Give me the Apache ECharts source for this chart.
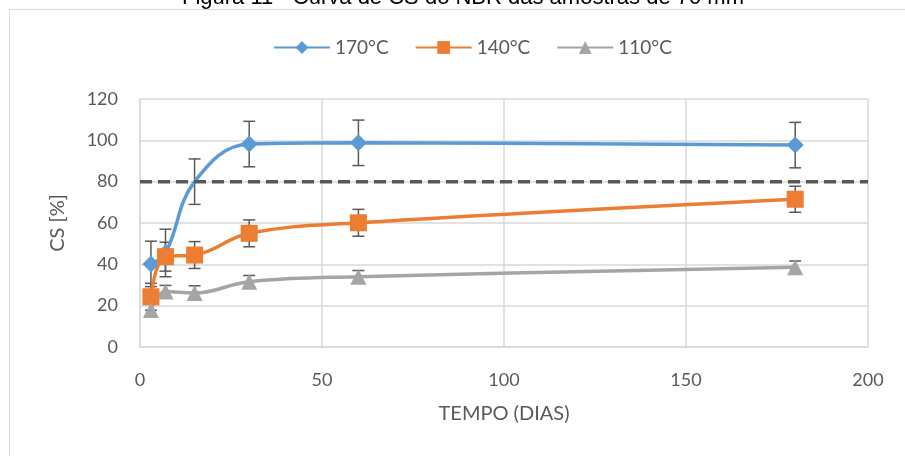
<!DOCTYPE html>
<html lang="pt">
	<head>
		<meta charset="UTF-8" />
		<title>Curva de CS</title>
		<style>
			body {
				margin: 0;
				padding: 0;
				background: #fff;
			}
			.chart {
				width: 905px;
				height: 456px;
			}
		</style>
	</head>
	<body>
		<div class="chart"></div>
		<script src="https://cdn.jsdelivr.net/npm/echarts@6/dist/echarts.min.js"></script>
		<script>
			// dados
			const dias = [3, 7, 15, 30, 60, 180];
			const cs170 = [40.2, 45.5, 80, 98.2, 98.8, 97.7];
			const cs140 = [24.3, 43.7, 44.5, 55, 60.1, 71.5];
			const cs110 = [17.9, 26.8, 26.1, 31.6, 34, 38.6];
			const erro170 = [11, 11.5, 11, 11, 11, 11];
			const erro140 = [6.5, 7, 6.5, 6.5, 6.5, 6.3];
			const erro110 = [3, 3, 3.5, 3, 3, 3];
			const limite = 80;

			const fonte = 'Lato';
			const cinza = '#595959';

			const pares = (ys) => dias.map((d, i) => [d, ys[i]]);
			const barras = (ys, es) => dias.map((d, i) => [d, ys[i] - es[i], ys[i] + es[i]]);

			function desenhaErro(params, api) {
				const x = api.value(0);
				const lo = api.coord([x, api.value(1)]);
				const hi = api.coord([x, api.value(2)]);
				const w = 6;
				const st = { stroke: cinza, lineWidth: 1.5 };
				return {
					type: 'group',
					children: [
						{ type: 'line', shape: { x1: lo[0], y1: lo[1], x2: hi[0], y2: hi[1] }, style: st },
						{ type: 'line', shape: { x1: lo[0] - w, y1: lo[1], x2: lo[0] + w, y2: lo[1] }, style: st },
						{ type: 'line', shape: { x1: hi[0] - w, y1: hi[1], x2: hi[0] + w, y2: hi[1] }, style: st }
					]
				};
			}

			const errSerie = (data) => ({
				type: 'custom',
				renderItem: desenhaErro,
				data: data,
				z: 3,
				silent: true,
				encode: { x: 0, y: [1, 2] }
			});

			const container = document.querySelector('.chart');
			const instance = echarts.init(container);
			const option = {
				animation: false,
				graphic: [
					{
						type: 'rect',
						shape: { x: 9.5, y: 9.5, width: 2000, height: 2000 },
						style: { fill: 'none', stroke: '#d9d9d9', lineWidth: 1 }
					},
					{
						type: 'text',
						x: 463,
						y: -2,
						style: {
							text: 'Figura 11 - Curva de CS do NBR das amostras de 70 mm',
							font: '22px "Liberation Sans"',
							fill: '#000',
							textAlign: 'center',
							textVerticalAlign: 'middle'
						}
					}
				],
				legend: {
					top: 33,
					left: 268,
					itemWidth: 56,
					itemHeight: 16,
					itemGap: 26,
					textStyle: { color: cinza, fontSize: 19, fontFamily: fonte },
					data: ['170°C', '140°C', '110°C']
				},
				grid: { left: 140, right: 37, top: 99, bottom: 109 },
				xAxis: {
					type: 'value',
					min: 0,
					max: 200,
					interval: 50,
					name: 'TEMPO (DIAS)',
					nameLocation: 'middle',
					nameGap: 57,
					nameTextStyle: { color: cinza, fontSize: 20, fontFamily: fonte },
					axisLine: { lineStyle: { color: '#d9d9d9', width: 1.5 } },
					axisTick: { show: false },
					axisLabel: { color: cinza, fontSize: 18, fontFamily: fonte, margin: 24 },
					splitLine: { show: true, lineStyle: { color: '#d9d9d9', width: 1.5 } }
				},
				yAxis: {
					type: 'value',
					min: 0,
					max: 120,
					interval: 20,
					name: 'CS [%]',
					nameLocation: 'middle',
					nameGap: 72,
					nameTextStyle: { color: cinza, fontSize: 20, fontFamily: fonte },
					axisLine: { show: true, lineStyle: { color: '#d9d9d9', width: 1.5 } },
					axisTick: { show: false },
					axisLabel: { color: cinza, fontSize: 18, fontFamily: fonte, margin: 22 },
					splitLine: { lineStyle: { color: '#d9d9d9', width: 1.5 } }
				},
				series: [
					errSerie(barras(cs170, erro170)),
					errSerie(barras(cs140, erro140)),
					errSerie(barras(cs110, erro110)),
					{
						name: '170°C',
						type: 'line',
						smooth: 0.4,
						data: pares(cs170).map((p, i) => (i === 2 ? { value: p, symbol: 'none' } : p)),
						symbol: 'diamond',
						symbolSize: 17,
						itemStyle: { color: '#5b9bd5' },
						lineStyle: { color: '#5b9bd5', width: 3.5 },
						z: 4
					},
					{
						name: '140°C',
						type: 'line',
						smooth: 0.4,
						data: pares(cs140),
						symbol: 'rect',
						symbolSize: 17,
						itemStyle: { color: '#ed7d31' },
						lineStyle: { color: '#ed7d31', width: 3.5 },
						z: 4
					},
					{
						name: '110°C',
						type: 'line',
						smooth: 0.4,
						data: pares(cs110),
						symbol: 'triangle',
						symbolSize: 16,
						itemStyle: { color: '#a5a5a5' },
						lineStyle: { color: '#a5a5a5', width: 3.5 },
						z: 4
					},
					{
						type: 'line',
						data: [[0, limite], [200, limite]],
						symbol: 'none',
						lineStyle: { color: cinza, width: 3.5, type: [12, 6] },
						silent: true,
						z: 5
					}
				]
			};
			instance.setOption(option);
		</script>
	</body>
</html>
